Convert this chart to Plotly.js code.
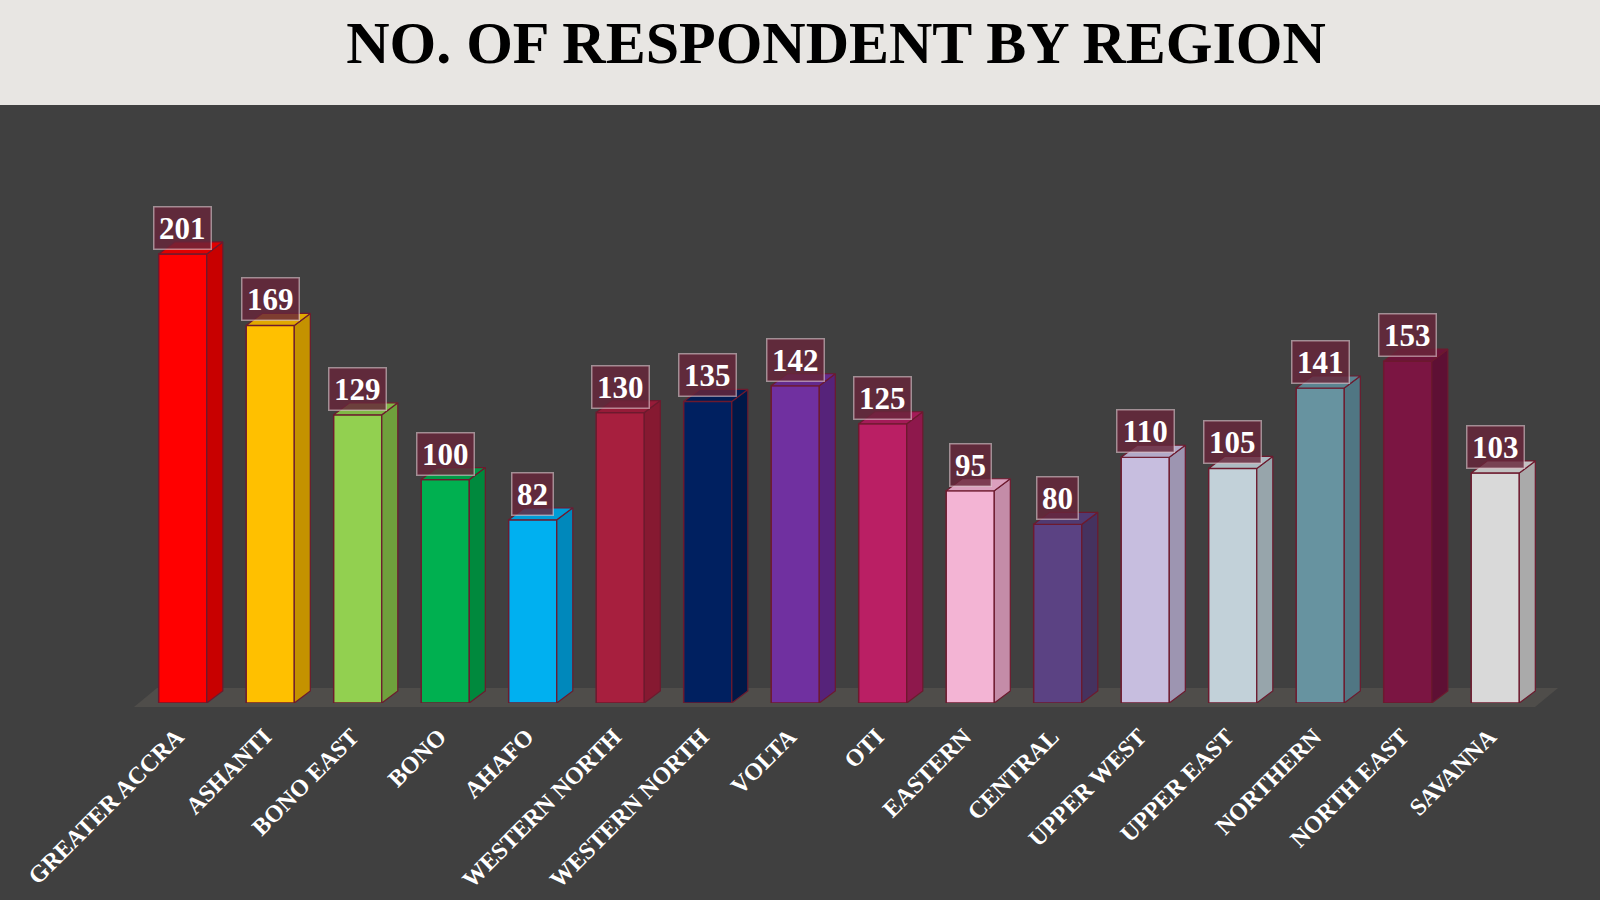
<!DOCTYPE html>
<html>
<head>
<meta charset="utf-8">
<script src="https://cdn.plot.ly/plotly-3.0.1.min.js"></script>
<style>
html,body{margin:0;padding:0;background:#404040;}
#chart{width:1600px;height:900px;}
</style>
</head>
<body>
<div id="chart"></div>
<script>
// ---- data ----
const regions = ["GREATER ACCRA","ASHANTI","BONO EAST","BONO","AHAFO","WESTERN NORTH","WESTERN NORTH","VOLTA","OTI","EASTERN","CENTRAL","UPPER WEST","UPPER EAST","NORTHERN","NORTH EAST","SAVANNA"];
const respondents = [201,169,129,100,82,130,135,142,125,95,80,110,105,141,153,103];
const frontColors = ["#FF0000","#FFC000","#92D050","#00B050","#00B0F0","#A71F3E","#002060","#7030A0","#BA1F64","#F3B4D4","#5B4283","#C7BEDF","#C2D1D9","#6793A0","#7B1542","#D9D9D9"];
const sideColors  = ["#C80000","#C49200","#6FA03C","#00893D","#0088BB","#861931","#001848","#56237A","#8E184C","#C48CA8","#45325F","#9D95B1","#97A5AB","#507683","#5E1034","#AAAAAA"];
const topColors   = ["#E00000","#E0A800","#80B846","#009A46","#009CD6","#961B38","#001C54","#632A8D","#A41B58","#DBA0BE","#503A71","#B2AAC8","#ACBBC2","#5B8491","#6D1339","#C2C2C2"];

// ---- geometry (styling) ----
const pxPerCat = 87.5, pxPerUnit = 2.234;
const barW = 0.55, hw = barW / 2;
const dx = 16 / pxPerCat, dy = 12 / pxPerUnit;
const edge = "#6D1A2E";
const idx = regions.map((_, i) => i);
const serif = "Liberation Serif, 'Times New Roman', serif";

const traces = [];
// side and top faces, derived from the data
respondents.forEach((v, i) => {
  traces.push({
    type: "scatter", mode: "lines", hoverinfo: "skip", showlegend: false,
    x: [i + hw, i + hw + dx, i + hw + dx, i + hw, i + hw],
    y: [0, dy, v + dy, v, 0],
    fill: "toself", fillcolor: sideColors[i],
    line: {color: edge, width: 1.2}
  });
  traces.push({
    type: "scatter", mode: "lines", hoverinfo: "skip", showlegend: false,
    x: [i - hw, i + hw, i + hw + dx, i - hw + dx, i - hw],
    y: [v, v, v + dy, v + dy, v],
    fill: "toself", fillcolor: topColors[i],
    line: {color: edge, width: 1.2}
  });
});
// front faces
traces.unshift({
  type: "bar", x: idx, y: respondents, width: barW,
  marker: {color: frontColors, line: {color: edge, width: 1.5}},
  hoverinfo: "x+y", showlegend: false
});

const L = 139, R = 61, T = 167, B = 197;
const plotW = 1600 - L - R, plotH = 900 - T - B;
const px = p => (p - L) / plotW;
const py = p => (900 - B - p) / plotH;

const annotations = respondents.map((v, i) => ({
  x: i, y: v, xref: "x", yref: "y", yanchor: "bottom", xanchor: "center",
  yshift: 4, showarrow: false, text: String(v),
  width: String(v).length * 15.5 + 3, align: "center",
  font: {family: serif, size: 31, color: "#FFFFFF", weight: "bold"},
  bgcolor: "rgba(104,38,58,0.82)", bordercolor: "rgba(235,215,220,0.55)", borderwidth: 1.5, borderpad: 3
}));

const layout = {
  width: 1600, height: 900,
  paper_bgcolor: "#404040", plot_bgcolor: "rgba(0,0,0,0)",
  margin: {l: L, r: R, t: T, b: B, pad: 0},
  title: {
    text: "NO. OF RESPONDENT BY REGION",
    font: {family: serif, size: 60, color: "#000000", weight: "bold"},
    x: 836 / 1600, xref: "container", xanchor: "center",
    y: 1 - 42 / 900, yref: "container", yanchor: "middle"
  },
  xaxis: {
    range: [-0.5, 15.5], tickvals: idx, ticktext: regions, tickangle: -45,
    showgrid: false, zeroline: false, showline: false, ticks: "",
    ticklabelstandoff: 14, ticklabelshift: -6,
    tickfont: {family: serif, size: 24, color: "#FFFFFF", weight: "bold"},
    fixedrange: true
  },
  yaxis: {
    range: [0, plotH / pxPerUnit], showgrid: false, zeroline: false, showline: false,
    showticklabels: false, ticks: "", fixedrange: true
  },
  shapes: [
    {type: "rect", xref: "paper", yref: "paper", layer: "below",
     x0: px(0), x1: px(1600), y0: py(105), y1: py(0),
     fillcolor: "#E8E6E3", line: {width: 0}},
    {type: "path", xref: "paper", yref: "paper", layer: "below",
     path: `M ${px(134)} ${py(707)} L ${px(1535)} ${py(707)} L ${px(1558)} ${py(688)} L ${px(157)} ${py(688)} Z`,
     fillcolor: "#4F4D4A", line: {width: 0}}
  ],
  annotations: annotations,
  showlegend: false
};

Plotly.newPlot("chart", traces, layout, {displayModeBar: false, staticPlot: true});
</script>
</body>
</html>
